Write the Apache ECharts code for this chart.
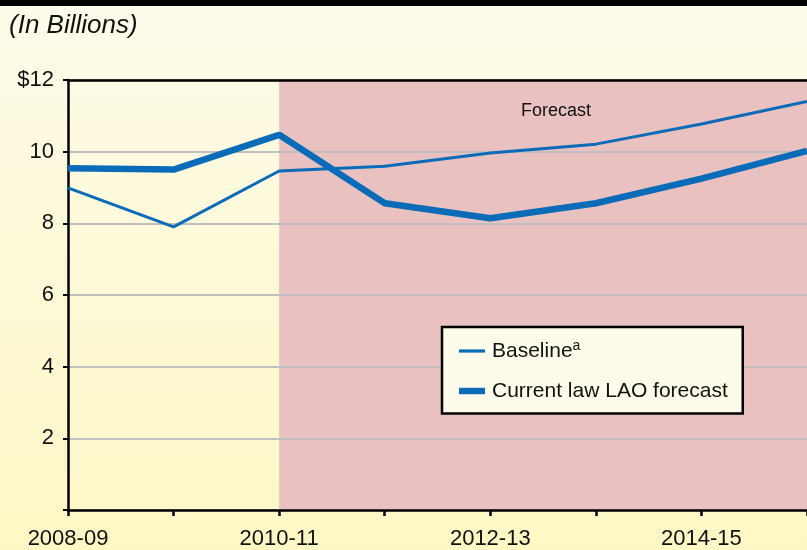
<!DOCTYPE html>
<html>
<head>
<meta charset="utf-8">
<script src="https://cdn.jsdelivr.net/npm/echarts@6/dist/echarts.min.js"></script>
<style>
html,body{margin:0;padding:0;width:807px;height:550px;overflow:hidden;}
#c{width:807px;height:550px;}
</style>
</head>
<body>
<div id="c"></div>
<script>
const categories = ['2008-09','2009-10','2010-11','2011-12','2012-13','2013-14','2014-15','2015-16'];
const baseline = [8.99, 7.90, 9.46, 9.59, 9.96, 10.21, 10.77, 11.40];
const currentLaw = [9.54, 9.50, 10.47, 8.56, 8.14, 8.56, 9.25, 10.02];
const forecastStart = '2010-11';
const forecastEnd = '2015-16';
const yTicks = [0, 2, 4, 6, 8, 10, 12];

const FONT = 'Liberation Sans, Arial, Helvetica, sans-serif';
const BLUE = '#0a6cb8';
const THIN_ICON = 'path://M0,0M0,14M0,5.4L26,5.4L26,8.6L0,8.6Z';
const THICK_ICON = 'path://M0,0M0,14M0,3.8L26,3.8L26,10.2L0,10.2Z';

const chart = echarts.init(document.getElementById('c'));
chart.setOption({
  animation: false,
  backgroundColor: {
    type: 'linear', x: 0, y: 0, x2: 0, y2: 1,
    colorStops: [{offset: 0, color: '#fdfbea'}, {offset: 1, color: '#fdf7c4'}]
  },
  textStyle: {fontFamily: FONT},
  graphic: [
    {type: 'rect', left: 0, top: 0, shape: {width: 807, height: 6}, style: {fill: '#000'}},
    {type: 'text', left: 9, top: 13, style: {text: '(In Billions)', font: 'italic 26px ' + FONT, fill: '#111'}}
  ],
  grid: {left: 68, top: 80, right: -2, bottom: 39, containLabel: false},
  xAxis: [{
    type: 'category', data: categories, boundaryGap: false, z: 4,
    axisLine: {lineStyle: {color: '#000', width: 2.5}},
    axisTick: {show: true, length: 6, interval: 0, lineStyle: {color: '#000', width: 2.5}},
    axisLabel: {interval: 1, margin: 18, fontSize: 22, color: '#111', fontFamily: FONT},
    splitLine: {show: false}
  }, {
    type: 'category', data: categories, boundaryGap: false, position: 'top', z: 4,
    axisLine: {lineStyle: {color: '#000', width: 2.5}},
    axisTick: {show: false}, axisLabel: {show: false}, splitLine: {show: false}
  }],
  yAxis: {
    type: 'value', min: yTicks[0], max: yTicks[yTicks.length - 1], interval: 2, z: 2,
    axisLine: {show: true, lineStyle: {color: '#000', width: 2.5}},
    axisTick: {show: true, length: 5, lineStyle: {color: '#000', width: 2}},
    axisLabel: {
      margin: 14, fontSize: 22, color: '#111', fontFamily: FONT,
      formatter: v => v === 0 ? '' : (v === 12 ? '$12' : String(v))
    },
    splitLine: {show: true, lineStyle: {color: '#c0c0c0', width: 2}}
  },
  legend: {
    orient: 'vertical', left: 442, top: 327,
    backgroundColor: '#fdfbea', borderColor: '#000', borderWidth: 2.5,
    padding: [12, 15, 12, 17], itemGap: 19, itemWidth: 26, itemHeight: 14,
    data: [
      {name: 'Baseline', icon: THIN_ICON},
      {name: 'Current law LAO forecast', icon: THICK_ICON}
    ],
    textStyle: {
      fontSize: 21, color: '#111', fontFamily: FONT, padding: [0, 0, 0, 2],
      rich: {sup: {fontSize: 14, verticalAlign: 'top', padding: [0, 0, 10, 0], color: '#111', fontFamily: FONT}}
    },
    formatter: name => name === 'Baseline' ? 'Baseline{sup|a}' : name
  },
  series: [
    {
      name: '_forecast', type: 'line', data: [], z: 1, silent: true,
      markArea: {
        silent: true,
        itemStyle: {color: '#e8c1c0'},
        label: {show: true, position: 'insideTop', distance: 22, offset: [13, 0], color: '#111', fontSize: 18, fontFamily: FONT},
        data: [[{name: 'Forecast', xAxis: forecastStart, yAxis: yTicks[yTicks.length - 1]}, {xAxis: forecastEnd, yAxis: yTicks[0]}]]
      }
    },
    {
      name: 'Baseline', type: 'line', data: baseline, z: 5, symbol: 'none',
      lineStyle: {color: BLUE, width: 3}, itemStyle: {color: BLUE}
    },
    {
      name: 'Current law LAO forecast', type: 'line', data: currentLaw, z: 6, symbol: 'none',
      lineStyle: {color: BLUE, width: 6.5}, itemStyle: {color: BLUE}
    }
  ]
});
</script>
</body>
</html>
